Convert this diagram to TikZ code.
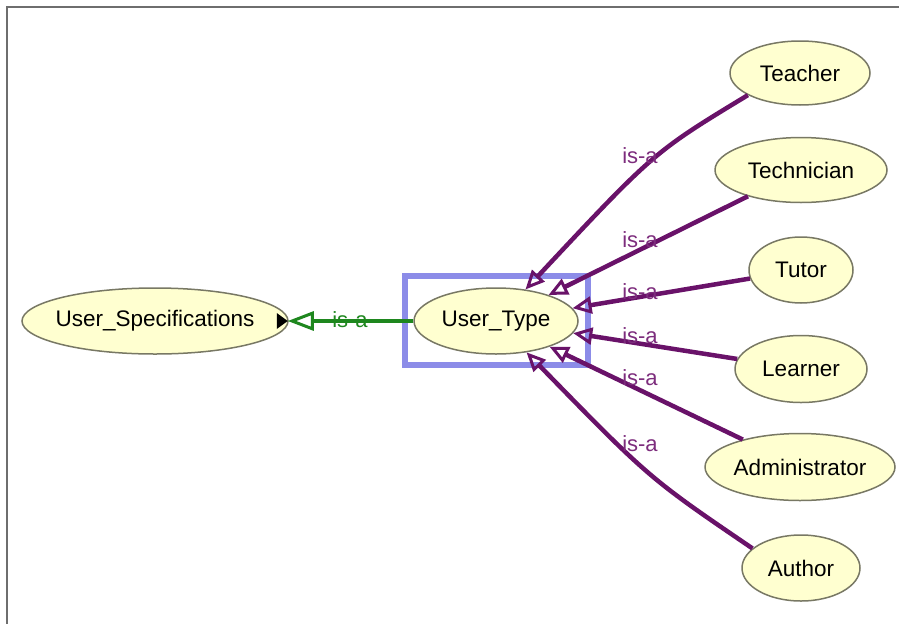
\documentclass[tikz,border=0pt]{standalone}
\usepackage{fontspec}
\setmainfont{Liberation Sans}
\usetikzlibrary{arrows.meta,shapes.geometric}
\definecolor{nodefill}{RGB}{255,255,208}
\definecolor{nodeline}{RGB}{120,120,100}
\definecolor{isapurple}{RGB}{105,18,105}
\definecolor{lblpurple}{RGB}{125,45,125}
\definecolor{isagreen}{RGB}{30,135,30}
\definecolor{selblue}{RGB}{140,140,232}
\definecolor{framegray}{RGB}{110,110,110}
\newcommand{\clstext}[1]{\makebox[0pt][c]{#1}}
\tikzset{
  cls/.style={ellipse, draw=nodeline, line width=1.5pt, fill=nodefill, inner sep=0pt,
    font=\fontsize{22.5}{26}\selectfont, text=black},
  isaedge/.style={draw=isapurple, line width=4.5pt,
    -{Triangle[open, length=19pt, width=17pt, line width=3pt]}},
  isalbl/.style={font=\fontsize{22}{26}\selectfont, text=lblpurple, inner sep=0pt, anchor=base},
  greenedge/.style={draw=isagreen, line width=3.5pt,
    -{Triangle[open, length=26pt, width=19pt, line width=3pt]}},
}
\begin{document}
\begin{tikzpicture}[x=1pt,y=-1pt]
\useasboundingbox (0,0) rectangle (899,624);
\fill[white] (0,0) rectangle (899,624);
% frame
\draw[framegray, line width=1.5pt] (899,7) -- (7,7) -- (7,624);

% selection highlight
\node[draw=selblue, line width=6pt, minimum width=183pt, minimum height=89pt, inner sep=0pt] (sel) at (496.5,320.5) {};

% nodes
\node[cls, minimum width=266pt, minimum height=66pt] (us) at (155,321) {\clstext{User\_Specifications}};
\node[cls, minimum width=164pt, minimum height=66pt] (ut) at (496,321) {\clstext{User\_Type}};
\node[cls, minimum width=140pt, minimum height=64pt] (teacher) at (800,73) {\clstext{Teacher}};
\node[cls, minimum width=172pt, minimum height=65pt] (tech) at (801,170) {\clstext{Technician}};
\node[cls, minimum width=104pt, minimum height=66pt] (tutor) at (801,270) {\clstext{Tutor}};
\node[cls, minimum width=132pt, minimum height=67pt] (learner) at (801,369) {\clstext{Learner}};
\node[cls, minimum width=190pt, minimum height=67pt] (admin) at (800,467) {\clstext{Administrator}};
\node[cls, minimum width=118pt, minimum height=66pt] (author) at (801,568) {\clstext{Author}};

% expand marker on User_Specifications
\coordinate (mk) at (us.east);
\fill[black] ([xshift=-12pt,yshift=-8pt]mk) -- ([xshift=-1pt]mk) -- ([xshift=-12pt,yshift=8pt]mk) -- cycle;

% green is-a edge
\draw[greenedge] (ut) -- ([xshift=-1pt]us.east);
\node[font=\fontsize{22}{26}\selectfont, text=isagreen, inner sep=0pt, anchor=base] (gl) at (350,327) {is-a};

% purple is-a edges
\coordinate (c1) at (654,152);
\coordinate (c6) at (649,478);
\draw[isaedge] (teacher.203) .. controls (c1) .. (ut);
\draw[isaedge] (tech) -- (ut);
\draw[isaedge] (tutor) -- (ut);
\draw[isaedge] (learner) -- (ut);
\draw[isaedge] (admin) -- (ut);
\draw[isaedge] (author.158) .. controls (c6) .. (ut);

% labels
\node[isalbl] (l1) at (640,163) {is-a};
\node[isalbl] (l2) at (640,247) {is-a};
\node[isalbl] (l3) at (640,299) {is-a};
\node[isalbl] (l4) at (640,343) {is-a};
\node[isalbl] (l5) at (640,385) {is-a};
\node[isalbl] (l6) at (640,451) {is-a};
\end{tikzpicture}
\end{document}
